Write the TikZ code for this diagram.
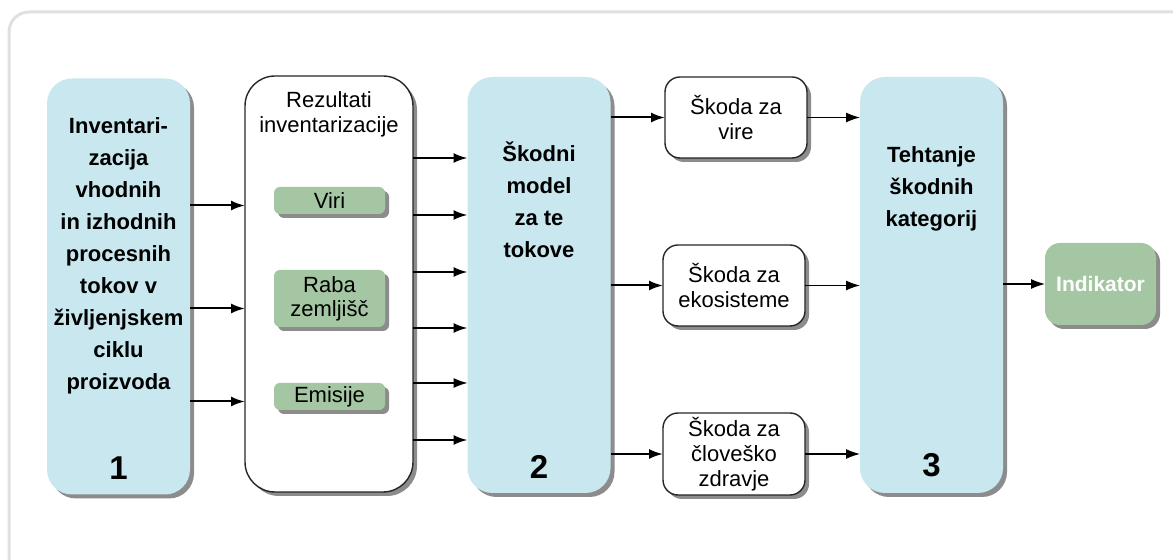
\documentclass[tikz,border=0pt]{standalone}
\usepackage{fontspec}
\setmainfont{Liberation Sans}
\usetikzlibrary{shapes,arrows.meta,shadows,calc}
\definecolor{stageblue}{RGB}{200,231,238}
\definecolor{catgreen}{RGB}{164,198,162}

\tikzset{
  shade/.style={drop shadow={shadow xshift=2pt, shadow yshift=-2pt, opacity=0.45, fill=black}},
  stage/.style={shade, fill=stageblue, rounded corners=12.5pt, inner sep=0pt,
    minimum width=71.5pt, minimum height=208pt},
  stagetext/.style={align=center, font=\fontsize{11}{16}\selectfont\bfseries},
  stagenum/.style={font=\fontsize{16.5}{18}\selectfont\bfseries},
  result/.style={shade, fill=white, draw=black!85, line width=0.7pt, rounded corners=15pt,
    inner sep=0pt, minimum width=84pt, minimum height=208pt},
  plain/.style={align=center, font=\fontsize{11}{12.5}\selectfont},
  cat/.style={shade, fill=catgreen, rounded corners=3pt, inner sep=0pt, align=center,
    minimum width=55.5pt, font=\fontsize{11}{12}\selectfont},
  damage/.style={shade, fill=white, draw=black!85, line width=0.7pt, rounded corners=7.5pt,
    inner sep=0pt, align=center, minimum width=71pt, minimum height=40.5pt,
    font=\fontsize{11}{12.5}\selectfont},
  indic/.style={shade, fill=catgreen, rounded corners=7.5pt, inner sep=0pt,
    minimum width=55.5pt, minimum height=41pt, text=white,
    font=\fontsize{10.5}{12}\selectfont\bfseries},
  flow/.style={->, line width=1pt},
  thinflow/.style={->, line width=0.6pt}
}

\begin{document}
\begin{tikzpicture}[x=0.5pt, y=-0.5pt, >={Latex[length=7pt,width=5pt]}, outer sep=0pt]
\useasboundingbox (0,0) rectangle (1173,560);
\clip (0,0) rectangle (1173,560);

% frame
\draw[draw=black!12, line width=1.5pt, rounded corners=10pt] (9,12) rectangle (1200,600);

% big stages
\node[stage] (inv) at (118.5,286.5) {};
\node[result] (rez) at (329,284) {};
\node[stage] (model) at (539,285) {};
\node[stage] (weight) at (931.5,285) {};

\node[stagetext] (invtxt) at (118.5,255.5) {Inventari-\\zacija\\vhodnih\\in izhodnih\\procesnih\\tokov v\\življenjskem\\ciklu\\proizvoda};
\node[stagenum] (invnum) at (118.5,468) {1};
\node[plain] (reztxt) at (329,114.5) {Rezultati\\inventarizacije};
\node[stagetext] (modeltxt) at (539,200) {Škodni\\model\\za te\\tokove};
\node[stagenum] (modelnum) at (539,467) {2};
\node[stagetext] (weighttxt) at (931.5,188.5) {Tehtanje\\škodnih\\kategorij};
\node[stagenum] (weightnum) at (931.5,465) {3};

% inventory categories
\node[cat, minimum height=13.5pt] (viri) at (329.5,200.5) {Viri};
\node[cat, minimum height=28.5pt] (raba) at (329.5,298.5) {Raba\\zemljišč};
\node[cat, minimum height=13.5pt] (emis) at (329.5,396.5) {Emisije};

% damage categories
\node[damage] (vire) at (736,117.5) {Škoda za\\vire};
\node[damage] (eko) at (734,285.5) {Škoda za\\ekosisteme};
\node[damage, minimum height=41pt] (clov) at (734,454) {Škoda za\\človeško\\zdravje};

\node[indic] (indik) at (1100.5,284) {Indikator};

% flows
\foreach \n/\dy in {viri/-2.5pt, raba/-5pt, emis/-2.5pt}
  \draw[flow] ([yshift=\dy]inv.east |- \n) -- ([yshift=\dy]rez.west |- \n);
\foreach \y/\w in {158/flow, 215/flow, 272/flow, 328/flow, 383/thinflow, 440/flow}
  \draw[\w] (rez.east |- 0,\y) -- (model.west |- 0,\y);
\foreach \n in {vire, eko, clov}
  \draw[flow] (model.east |- \n) -- (\n);
\foreach \n in {vire, eko, clov}
  \draw[thinflow] (\n) -- (\n -| weight.west);
\draw[thinflow] (weight.east |- indik) -- (indik);
\end{tikzpicture}
\end{document}
